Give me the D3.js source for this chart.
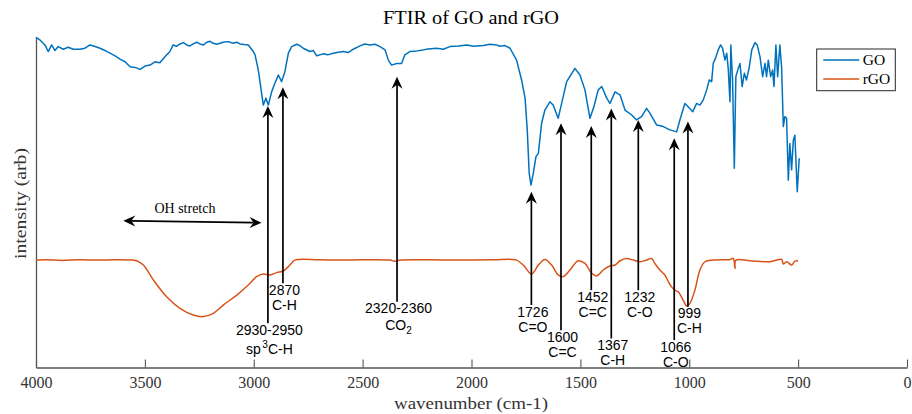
<!DOCTYPE html>
<html>
<head>
<meta charset="utf-8">
<script src="https://cdn.jsdelivr.net/npm/d3@7"></script>
<style>
  body { margin: 0; background: #fff; }
  svg { display: block; }
</style>
</head>
<body>
<svg id="chart" width="912" height="414"></svg>
<script>
// FTIR spectra: [wavenumber (cm-1), intensity (arb)]
const goSpectrum = [
  [4000,99.9],[3982,99.1],[3959,97.6],[3944,95.6],[3928,97.6],[3913,95.9],[3898,97.1],[3875,96.3],
  [3852,96.9],[3829,96.3],[3798,96.3],[3775,96.6],[3752,97.6],[3729,97.1],[3706,96.6],[3683,95.9],
  [3660,95.1],[3637,94.3],[3614,93.3],[3591,92.5],[3568,91.0],[3545,90.8],[3522,90.2],[3499,91.2],
  [3476,91.5],[3454,92.5],[3431,92.2],[3408,94.0],[3385,95.6],[3370,97.6],[3355,97.2],[3339,97.9],
  [3323,98.3],[3308,97.6],[3293,97.3],[3278,97.9],[3262,98.4],[3247,97.9],[3231,97.6],[3216,98.4],
  [3201,98.7],[3186,98.1],[3170,97.8],[3155,98.1],[3136,98.5],[3117,98.6],[3094,98.1],[3078,98.4],
  [3063,97.9],[3044,97.7],[3025,97.6],[3002,95.6],[2994,94.6],[2979,90.0],[2964,83.0],[2956,79.4],
  [2944,81.5],[2933,79.4],[2918,83.4],[2903,86.0],[2887,88.5],[2872,86.5],[2857,89.5],[2841,95.1],
  [2826,97.1],[2803,97.8],[2788,97.4],[2773,96.6],[2742,95.6],[2726,95.9],[2711,94.3],[2681,94.9],
  [2660,94.6],[2635,95.1],[2612,95.4],[2589,95.6],[2566,95.3],[2543,96.3],[2512,97.3],[2490,97.9],
  [2466,97.6],[2443,97.8],[2420,97.1],[2397,96.1],[2382,93.0],[2367,91.5],[2344,92.0],[2321,92.0],
  [2306,94.6],[2283,95.6],[2250,95.8],[2222,96.1],[2200,96.4],[2160,96.6],[2130,96.3],[2099,97.1],
  [2060,97.3],[2022,97.6],[1990,97.2],[1946,97.4],[1915,97.8],[1884,97.6],[1870,97.2],[1846,97.4],
  [1823,96.6],[1793,93.0],[1770,87.0],[1754,81.5],[1744,71.9],[1735,58.8],[1727,55.2],[1716,58.8],
  [1704,63.8],[1693,64.8],[1678,73.9],[1663,77.9],[1640,80.4],[1625,79.4],[1602,75.4],[1586,79.9],
  [1563,86.5],[1525,90.5],[1502,88.5],[1479,84.0],[1456,75.4],[1438,78.9],[1418,84.0],[1402,85.0],
  [1379,81.5],[1364,79.9],[1341,83.4],[1318,82.5],[1295,77.9],[1264,76.4],[1242,74.9],[1219,75.9],
  [1196,78.4],[1180,76.9],[1150,73.4],[1119,72.9],[1089,71.9],[1058,71.3],[1043,74.9],[1020,79.9],
  [1005,78.9],[984,77.4],[966,79.9],[951,79.4],[936,80.9],[920,84.0],[908,87.0],[897,86.5],
  [890,92.0],[877,94.0],[867,96.1],[856,97.6],[847,96.6],[836,93.0],[828,95.1],[821,90.5],
  [813,80.4],[809,97.6],[801,87.0],[793,60.3],[786,88.0],[775,90.5],[767,92.0],[757,85.0],
  [747,89.0],[737,87.0],[724,91.0],[713,96.1],[698,98.3],[688,97.6],[675,94.0],[663,88.0],
  [652,92.0],[645,88.0],[637,93.0],[626,88.0],[617,90.0],[611,85.0],[602,97.6],[594,88.0],
  [584,97.6],[576,91.0],[568,72.9],[561,75.9],[553,75.4],[545,56.7],[538,67.8],[530,59.8],
  [522,68.8],[515,70.3],[504,53.2],[495,63.3]
];

const rgoSpectrum = [
  [4000,32.5],[3950,32.6],[3880,32.4],[3800,32.6],[3720,32.5],[3640,32.6],[3553,32.5],[3538,32.3],
  [3507,31.0],[3461,26.5],[3400,21.4],[3339,17.9],[3278,15.9],[3232,15.4],[3186,16.4],[3140,18.9],
  [3078,21.9],[3017,25.5],[2987,27.5],[2956,28.3],[2925,28.0],[2895,28.7],[2864,29.2],[2834,31.0],
  [2811,32.5],[2700,32.6],[2600,32.5],[2500,32.6],[2374,32.5],[2359,32.2],[2343,32.2],[2328,32.5],
  [2200,32.6],[2050,32.5],[1900,32.6],[1816,32.7],[1793,32.5],[1762,31.0],[1724,28.3],[1693,31.0],
  [1663,32.7],[1632,31.0],[1602,28.0],[1579,27.5],[1548,29.5],[1510,32.3],[1479,31.5],[1448,28.5],
  [1425,27.7],[1395,29.5],[1364,30.7],[1341,31.0],[1318,32.3],[1287,33.0],[1257,32.5],[1226,32.0],
  [1196,32.5],[1173,33.0],[1158,31.5],[1135,29.5],[1112,28.0],[1096,26.0],[1081,24.4],[1066,23.4],
  [1051,22.9],[1028,20.4],[1012,18.6],[997,19.4],[974,23.4],[951,29.5],[928,32.0],[890,32.5],
  [813,32.7],[798,33.0],[790,30.0],[786,32.5],[721,32.3],[630,32.0],[576,32.7],[568,31.3],
  [553,32.0],[530,31.0],[515,32.2],[500,32.3]
];

const seriesNames = ["GO", "rGO"];
const seriesColors = ["#0072BD", "#D95319"];
const xTickValues = [4000, 3500, 3000, 2500, 2000, 1500, 1000, 500, 0];

// Band assignments: arrow position, arrow tip and tail (intensity units), label lines
const peakWavenumber = [2935, 2866, 2342, 1725, 1589, 1450, 1358, 1234, 1069, 1006];
const peakTip  = [79.1, 84.8, 88.0, 53.2, 73.9, 73.1, 78.4, 74.9, 69.4, 74.4];
const peakTail = [13.4, 25.5, 19.9, 18.9, 11.3, 23.4, 8.8, 23.4, 8.3, 18.4];
const peakLabel = [
  ["2930-2950", "sp^3C-H"], ["2870", "C-H"], ["2320-2360", "CO_2"], ["1726", "C=O"],
  ["1600", "C=C"], ["1452", "C=C"], ["1367", "C-H"], ["1232", "C-O"], ["1066", "C-O"], ["999", "C-H"]
];

// OH stretch span (double arrow)
const ohSpan = [[3599, 44.4], [2964, 43.8]];
const ohText = "OH stretch";
const ohTextAt = [3316, 46.8];

const svg = d3.select("#chart");
const x = d3.scaleLinear().domain([4000, 0]).range([36, 907]);
const y = d3.scaleLinear().domain([0, 100]).range([367.5, 37]);

const serif = "'Liberation Serif', 'Times New Roman', serif";
const sans = "'Liberation Sans', Arial, sans-serif";
const axisColor = "#555";

// Title
svg.append("text")
  .attr("x", 471).attr("y", 24.3)
  .attr("text-anchor", "middle")
  .attr("font-family", serif).attr("font-size", 18)
  .attr("textLength", 176).attr("lengthAdjust", "spacingAndGlyphs")
  .attr("fill", "#000")
  .text("FTIR of GO and rGO");

// Axes
const gx = svg.append("g").attr("transform", `translate(0,${y(0)})`)
  .call(d3.axisBottom(x).tickValues(xTickValues).tickFormat(d3.format("d"))
    .tickSizeInner(-8).tickSizeOuter(0).tickPadding(9.5));
gx.select(".domain").attr("stroke", axisColor).attr("stroke-width", 1.3);
gx.selectAll(".tick line").attr("stroke", axisColor).attr("stroke-width", 1.1);
gx.selectAll(".tick text").attr("font-family", serif).attr("font-size", 16).attr("fill", "#333");

const gy = svg.append("g").attr("transform", `translate(${x(4000)},0)`)
  .call(d3.axisLeft(y).tickValues([]).tickSizeOuter(0));
gy.select(".domain").attr("stroke", axisColor).attr("stroke-width", 1.3);

// Axis labels
svg.append("text")
  .attr("x", 471).attr("y", 409)
  .attr("text-anchor", "middle")
  .attr("font-family", serif).attr("font-size", 17)
  .attr("textLength", 154).attr("lengthAdjust", "spacingAndGlyphs")
  .attr("fill", "#333")
  .text("wavenumber (cm-1)");

svg.append("text")
  .attr("transform", "translate(25.5,203.5) rotate(-90)")
  .attr("text-anchor", "middle")
  .attr("font-family", serif).attr("font-size", 17)
  .attr("textLength", 111).attr("lengthAdjust", "spacingAndGlyphs")
  .attr("fill", "#333")
  .text("intensity (arb)");

// Spectra (rGO is a smooth trace, GO keeps its sharp features)
const goLine = d3.line().x(d => x(d[0])).y(d => y(d[1]));
const rgoLine = d3.line().x(d => x(d[0])).y(d => y(d[1])).curve(d3.curveCatmullRom.alpha(0.5));
[[goSpectrum, goLine], [rgoSpectrum, rgoLine]].forEach(([s, gen], i) => {
  svg.append("path")
    .datum(s)
    .attr("d", gen)
    .attr("fill", "none")
    .attr("stroke", seriesColors[i])
    .attr("stroke-width", 1.5)
    .attr("stroke-linejoin", "round");
});

// Arrow helper: line from tail to tip with a notched head at the tip
const headLen = 12, headHalf = 5.5, headNotch = 8;
function drawArrow(g, x1, y1, x2, y2, both) {
  const ang = Math.atan2(y2 - y1, x2 - x1);
  const ux = Math.cos(ang), uy = Math.sin(ang);
  const sx = both ? x1 + ux * headNotch : x1;
  const sy = both ? y1 + uy * headNotch : y1;
  g.append("line")
    .attr("x1", sx).attr("y1", sy)
    .attr("x2", x2 - ux * headNotch).attr("y2", y2 - uy * headNotch)
    .attr("stroke", "#000").attr("stroke-width", 1.7);
  const head = `M0,0L${-headLen},${-headHalf}L${-headNotch},0L${-headLen},${headHalf}Z`;
  g.append("path").attr("d", head)
    .attr("transform", `translate(${x2},${y2}) rotate(${ang * 180 / Math.PI})`)
    .attr("fill", "#000");
  if (both) {
    g.append("path").attr("d", head)
      .attr("transform", `translate(${x1},${y1}) rotate(${ang * 180 / Math.PI + 180})`)
      .attr("fill", "#000");
  }
}

// Label line with ^sup / _sub markup
function addRichText(t, str) {
  const m = str.match(/^([^\^_]*)([\^_])(.)(.*)$/);
  if (!m) { t.append("tspan").text(str); return; }
  t.append("tspan").text(m[1]);
  const up = m[2] === "^";
  t.append("tspan").attr("font-size", 10).attr("dx", up ? 1.5 : 0).attr("dy", up ? -6 : 4).text(m[3]);
  if (m[4]) t.append("tspan").attr("dy", up ? 6 : -4).text(m[4]);
}

const ann = svg.append("g");
peakWavenumber.forEach((wn, i) => {
  const px = x(wn);
  drawArrow(ann, px, y(peakTail[i]), px, y(peakTip[i]), false);
  const base = y(peakTail[i]) + 11.5;
  const second = peakLabel[i][1];
  const gap = second.includes("^") ? 19 : (second.includes("_") ? 16.5 : 15);
  peakLabel[i].forEach((s, k) => {
    const t = ann.append("text")
      .attr("x", px + 1.5).attr("y", base + k * gap)
      .attr("text-anchor", "middle")
      .attr("font-family", sans).attr("font-size", 14)
      .attr("fill", "#000");
    addRichText(t, s);
  });
});

// OH stretch range
drawArrow(ann, x(ohSpan[0][0]), y(ohSpan[0][1]), x(ohSpan[1][0]), y(ohSpan[1][1]), true);
ann.append("text")
  .attr("x", x(ohTextAt[0])).attr("y", y(ohTextAt[1]))
  .attr("text-anchor", "middle")
  .attr("font-family", serif).attr("font-size", 14)
  .attr("fill", "#000")
  .text(ohText);

// Legend
const lg = svg.append("g");
lg.append("rect")
  .attr("x", 816.7).attr("y", 49).attr("width", 78.6).attr("height", 41.7)
  .attr("fill", "#fff").attr("stroke", "#262626").attr("stroke-width", 1);
seriesNames.forEach((name, i) => {
  const ly = 60 + i * 19;
  lg.append("line")
    .attr("x1", 823.3).attr("x2", 859.3).attr("y1", ly).attr("y2", ly)
    .attr("stroke", seriesColors[i]).attr("stroke-width", 1.5);
  lg.append("text")
    .attr("x", 862.7).attr("y", ly + 5.3)
    .attr("font-family", serif).attr("font-size", 15.5)
    .attr("fill", "#000")
    .text(name);
});
</script>
</body>
</html>
